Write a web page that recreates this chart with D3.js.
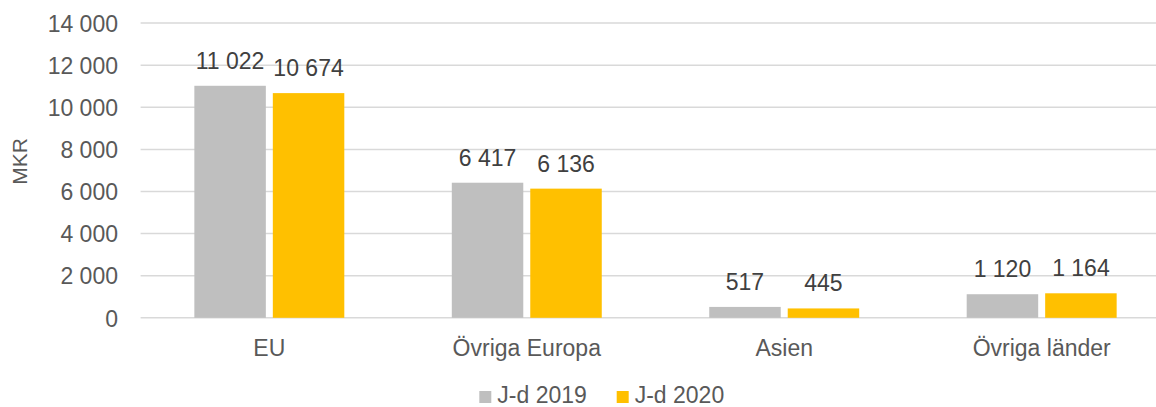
<!DOCTYPE html>
<html>
<head>
<meta charset="utf-8">
<script src="https://cdn.jsdelivr.net/npm/d3@7"></script>
<style>
  html, body { margin: 0; padding: 0; background: #fff; }
  svg { display: block; font-family: "Liberation Sans", Arial, sans-serif; }
</style>
</head>
<body>
<svg id="chart" width="1156" height="407"></svg>
<script>
const categories = ["EU", "Övriga Europa", "Asien", "Övriga länder"];
const seriesNames = ["J-d 2019", "J-d 2020"];
const values2019 = [11022, 6417, 517, 1120];
const values2020 = [10674, 6136, 445, 1164];
const yTicks = [0, 2000, 4000, 6000, 8000, 10000, 12000, 14000];
const colors = ["#BFBFBF", "#FFC000"];

const fmt = v => d3.format(",")(v).replace(/,/g, " ");

const svg = d3.select("#chart");
const W = 1156, H = 407;
const plotLeft = 140.6, plotRight = 1170.4;
const y0 = 317.8, yTop = 23.1;

const x0 = d3.scaleBand().domain(categories).range([plotLeft, plotRight])
  .paddingInner(0.4175).paddingOuter(0.4175 / 2);
const x1 = d3.scaleBand().domain(seriesNames).range([0, x0.bandwidth()]).paddingInner(0.089);
const y = d3.scaleLinear().domain([0, 14000]).range([y0, yTop]);

// gridlines
svg.append("g").selectAll("line").data(yTicks).join("line")
  .attr("x1", plotLeft).attr("x2", W)
  .attr("y1", d => y(d)).attr("y2", d => y(d))
  .attr("stroke", "#D9D9D9").attr("stroke-width", 1.5);

// y axis labels
const yAxis = d3.axisLeft(y).tickValues(yTicks).tickFormat(fmt).tickSize(0).tickPadding(0);
const ga = svg.append("g").attr("transform", "translate(118,0)").call(yAxis);
ga.select(".domain").remove();
ga.selectAll("text").attr("fill", "#595959").style("font-size", "23px")
  .style("font-family", "'Liberation Sans', Arial, sans-serif").attr("dy", "0.36em");

// x axis labels
const xAxis = d3.axisBottom(x0).tickSize(0).tickPadding(0);
const gx = svg.append("g").attr("transform", "translate(0,356)").call(xAxis);
gx.select(".domain").remove();
gx.selectAll("text").attr("fill", "#595959").style("font-size", "23px")
  .style("font-family", "'Liberation Sans', Arial, sans-serif").attr("dy", "0");

// bars
const rows = categories.map((c, i) => ({ cat: c, vals: [values2019[i], values2020[i]] }));
const groups = svg.append("g").selectAll("g").data(rows).join("g")
  .attr("transform", d => `translate(${x0(d.cat)},0)`);
groups.selectAll("rect").data(d => d.vals.map((v, j) => ({ s: seriesNames[j], v, j })))
  .join("rect")
  .attr("x", d => x1(d.s)).attr("width", x1.bandwidth())
  .attr("y", d => y(d.v)).attr("height", d => y0 - y(d.v))
  .attr("fill", d => colors[d.j]);
groups.selectAll("text").data(d => d.vals.map((v, j) => ({ s: seriesNames[j], v, j })))
  .join("text")
  .attr("x", d => x1(d.s) + x1.bandwidth() / 2)
  .attr("y", d => y(d.v) - 17)
  .attr("text-anchor", "middle")
  .attr("fill", "#404040")
  .style("font-size", "23px")
  .text(d => fmt(d.v));

// y title
svg.append("text")
  .attr("transform", "translate(27.3,161.5) rotate(-90)")
  .attr("text-anchor", "middle")
  .attr("fill", "#595959")
  .style("font-size", "21px")
  .text("MKR");

// legend
const legendX = [479.3, 616.7];
const lg = svg.append("g").selectAll("g").data(seriesNames).join("g")
  .attr("transform", (d, i) => `translate(${legendX[i]},0)`);
lg.append("rect").attr("x", 0).attr("y", 391).attr("width", 12).attr("height", 12)
  .attr("fill", (d, i) => colors[i]);
lg.append("text").attr("x", 18).attr("y", 403)
  .attr("fill", "#595959").style("font-size", "23px").text(d => d);
</script>
</body>
</html>
